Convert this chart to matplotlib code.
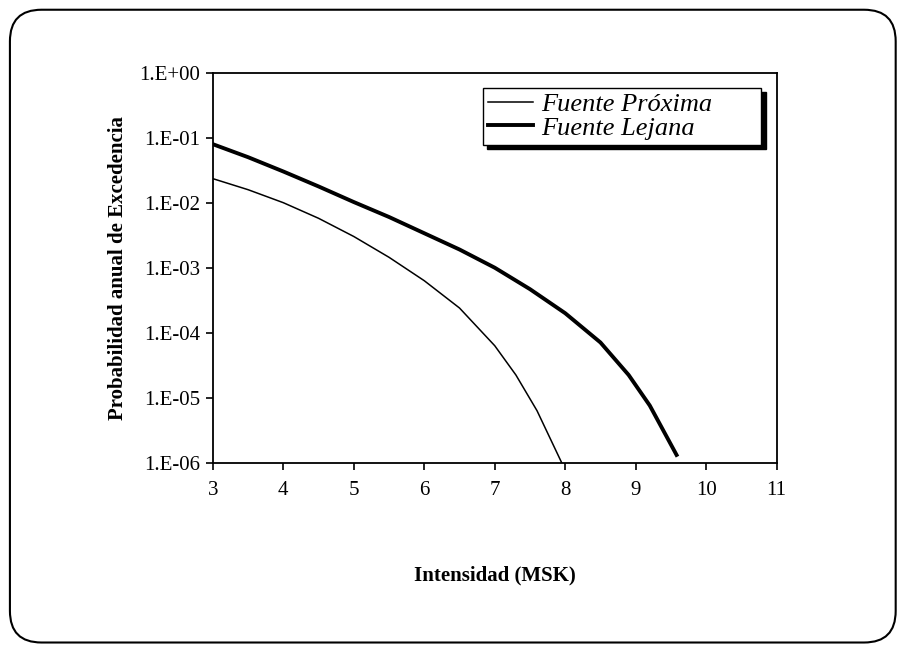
import numpy as np
import matplotlib
matplotlib.use("Agg")
import matplotlib.pyplot as plt
from matplotlib.patches import FancyBboxPatch
from matplotlib.ticker import FuncFormatter, FixedLocator

# Data (log10 of annual exceedance probability)
x_proxima = [3, 3.5, 4, 4.5, 5, 5.5, 6, 6.5, 7, 7.3, 7.6, 7.95]
log_proxima = [-1.63, -1.8, -2.0, -2.24, -2.52, -2.84, -3.2, -3.62, -4.2, -4.65, -5.2, -6.0]
x_lejana = [3, 3.5, 4, 4.5, 5, 5.5, 6, 6.5, 7, 7.5, 8, 8.5, 8.9, 9.2, 9.58]
log_lejana = [-1.1, -1.3, -1.52, -1.75, -1.99, -2.22, -2.47, -2.72, -3.0, -3.33, -3.7, -4.15, -4.65, -5.12, -5.88]
labels = ["Fuente Próxima", "Fuente Lejana"]
x_ticks = [3, 4, 5, 6, 7, 8, 9, 10, 11]
y_ticks = [1e0, 1e-1, 1e-2, 1e-3, 1e-4, 1e-5, 1e-6]

plt.rcParams['font.family'] = ['Liberation Serif', 'DejaVu Serif']

fig = plt.figure(figsize=(9.02, 6.49), dpi=100)
fig.patch.set_facecolor('white')

# rounded border
border = FancyBboxPatch((0.011, 0.010), 0.982, 0.975,
                        boxstyle="round,pad=0,rounding_size=0.035",
                        transform=fig.transFigure, fill=False,
                        edgecolor='black', linewidth=1.5, mutation_aspect=902/649)
fig.patches.append(border)

ax = fig.add_axes([0.236, 0.287, 0.625, 0.601])
ax.plot(x_proxima, 10 ** np.array(log_proxima), color='black', linewidth=1.1, label=labels[0])
ax.plot(x_lejana, 10 ** np.array(log_lejana), color='black', linewidth=2.8, label=labels[1])

ax.set_yscale('log')
ax.set_xlim(3, 11)
ax.set_ylim(1e-6, 1e0)
ax.xaxis.set_major_locator(FixedLocator(x_ticks))
ax.yaxis.set_major_locator(FixedLocator(y_ticks))
ax.yaxis.set_minor_locator(FixedLocator([]))
ax.yaxis.set_major_formatter(FuncFormatter(lambda v, p: "1.E{:+03d}".format(int(round(np.log10(v))))))
ax.tick_params(axis='both', labelsize=15, direction='out', length=5, width=1.2, colors='black')
ax.tick_params(axis='x', pad=8)
ax.tick_params(axis='y', pad=4)
for s in ax.spines.values():
    s.set_linewidth(1.3)

ax.set_xlabel("Intensidad (MSK)", fontsize=15, fontweight='bold', labelpad=47)
ax.set_ylabel("Probabilidad anual de Excedencia", fontsize=15, fontweight='bold', labelpad=8)

leg = ax.legend(loc='upper left', bbox_to_anchor=(0.479, 0.962, 0.494, 0.0), mode='expand',
                fancybox=False,
                shadow={'color': 'black', 'alpha': 1.0, 'ox': 3, 'oy': -3},
                prop={'style': 'italic', 'size': 19}, borderpad=0.2, labelspacing=0.0,
                handlelength=1.7, handletextpad=0.3, borderaxespad=0)
leg.get_frame().set_edgecolor('black')
leg.get_frame().set_linewidth(1.0)

fig.savefig("out.png", dpi=100)
